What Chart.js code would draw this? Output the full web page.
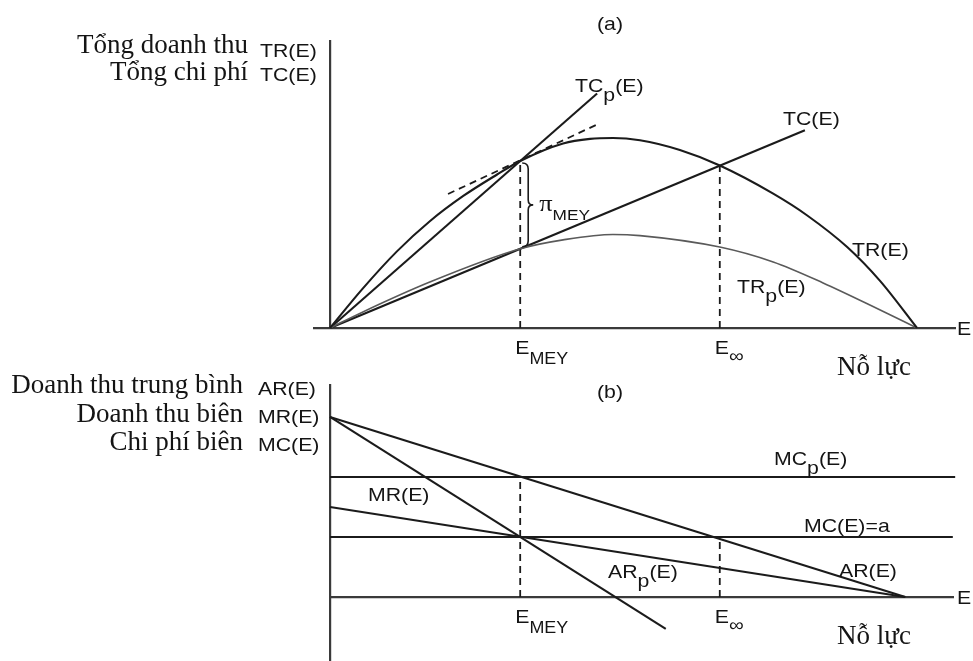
<!DOCTYPE html>
<html>
<head>
<meta charset="utf-8">
<script src="https://cdn.jsdelivr.net/npm/chart.js@4.4.1/dist/chart.umd.min.js"></script>
<style>
  html, body { margin: 0; padding: 0; background: #fff; }
  #wrap { position: relative; width: 973px; height: 661px; overflow: hidden; background: #fff; }
  #wrap canvas { position: absolute; left: 0; top: 0; }
</style>
</head>
<body>
<div id="wrap">
  <canvas id="panelA" width="973" height="661"></canvas>
  <canvas id="panelB" width="973" height="661"></canvas>
</div>
<script>
// Key effort levels
const E_MEY = 32.4;
const E_INF = 66.4;

// Panel (a): total revenue / total cost against effort E
const effortTR   = [0, 5.6, 11.4, 17.0, 22.7, 28.4, 32.4, 39.7, 44.3, 48.2, 52.8, 59.6, 66.4, 75.5, 81.3, 88.1, 93.7, 100];
const revenueTR  = [0, 13.8, 26.7, 37.2, 46.0, 53.4, 58.2, 64.3, 65.9, 66.2, 65.4, 62.0, 56.6, 46.8, 39.2, 28.2, 16.4, 0];
const effortTRp  = [0, 5.6, 17.0, 32.4, 39.7, 48.2, 52.8, 66.4, 75.5, 84.0, 92.5, 100];
const revenueTRp = [0, 5.6, 16.0, 27.6, 30.7, 32.6, 32.2, 28.2, 23.0, 15.7, 7.5, 0];
const effortTC   = [0, 80.9];
const costTC     = [0, 68.9];
const effortTCp  = [0, 45.5];
const costTCp    = [0, 81.7];
const effortTangent = [20.1, 45.7];
const valueTangent  = [46.7, 71.1];

// Panel (b): average / marginal revenue and marginal cost
const effortAR  = [0, 98];
const valueAR   = [30, 0];
const effortARp = [0, 98];
const valueARp  = [15, 0];
const effortMR  = [0, 57.2];
const valueMR   = [30, -5.3];
const effortMCp = [0, 106.5];
const valueMCp  = [20, 20];
const effortMC  = [0, 106.1];
const valueMC   = [10, 10];

const INK = '#1b1b1b';
const GREY = '#5a5a5a';
const AXIS = '#3a3a3a';
const TEXT = '#141414';
const SANS = '"Liberation Sans", Arial, Helvetica, sans-serif';
const SERIF = '"Liberation Serif", "Times New Roman", serif';

const pts = (xs, ys) => xs.map((x, i) => ({ x, y: ys[i] }));
const at = (xs, ys, x) => {
  const i = xs.indexOf(x);
  if (i >= 0) return ys[i];
  return ys[0] + (ys[1] - ys[0]) * (x - xs[0]) / (xs[1] - xs[0]);
};

function line(xs, ys, extra) {
  return Object.assign({
    data: pts(xs, ys), showLine: true, pointRadius: 0, borderColor: INK,
    borderWidth: 2.1, fill: false, clip: false, tension: 0
  }, extra || {});
}
const curve = { cubicInterpolationMode: 'monotone' };
const dashed = { borderDash: [7, 5], borderWidth: 1.8 };

// text helpers
const sans = (text, dy) => ({ text, font: '19px ' + SANS, sx: 1.12, dy: dy || 0 });
const sub = (text, dy) => ({ text, font: '16px ' + SANS, sx: 1.12, dy: dy || 10 });
const serif = (text) => ({ text, font: '27px ' + SERIF, sx: 1, dy: 0 });

function drawRich(ctx, x, y, parts, align) {
  const widths = parts.map(p => { ctx.font = p.font; return ctx.measureText(p.text).width * p.sx; });
  const total = widths.reduce((a, b) => a + b, 0);
  let cx = align === 'right' ? x - total : align === 'center' ? x - total / 2 : x;
  parts.forEach((p, i) => {
    ctx.save();
    ctx.font = p.font;
    ctx.fillStyle = TEXT;
    ctx.textAlign = 'left';
    ctx.textBaseline = 'alphabetic';
    ctx.translate(cx, y + p.dy);
    ctx.scale(p.sx, 1);
    ctx.fillText(p.text, 0, 0);
    ctx.restore();
    cx += widths[i];
  });
}

function axisOpts(extra) {
  return Object.assign({
    type: 'linear',
    grid: { display: false, drawTicks: false },
    border: { display: true, color: AXIS, width: 2.2 },
    ticks: { display: false }
  }, extra);
}

function baseOptions(padding, scales) {
  return {
    responsive: false,
    animation: false,
    events: [],
    layout: { padding },
    plugins: { legend: { display: false }, tooltip: { enabled: false } },
    scales
  };
}

// Labels for the effort axis: E_MEY, E_inf, "Nỗ lực" and the arrow letter E
function effortAxisLabels(ctx, xs, axisY) {
  const xm = xs.getPixelForValue(E_MEY);
  const xi = xs.getPixelForValue(E_INF);
  drawRich(ctx, xm - 5, axisY + 26, [sans('E'), sub('MEY')], 'left');
  drawRich(ctx, xi - 5, axisY + 26, [sans('E'), { text: '\u221e', font: '18px ' + SANS, sx: 1.15, dy: 8 }], 'left');
  drawRich(ctx, 837, axisY + 47, [serif('N\u1ed7 l\u1ef1c')], 'left');
  drawRich(ctx, 957, axisY + 7, [sans('E')], 'left');
}

// ---------- Panel (a) ----------
const trAtMEY = at(effortTR, revenueTR, E_MEY);
const tcAtMEY = at(effortTC, costTC, E_MEY);
const trAtINF = at(effortTR, revenueTR, E_INF);

const labelsA = {
  id: 'labelsA',
  afterDraw(chart) {
    const ctx = chart.ctx;
    const xs = chart.scales.x, ys = chart.scales.y;
    // profit brace between TR and TC at E_MEY
    const xb = xs.getPixelForValue(E_MEY);
    const yTop = ys.getPixelForValue(trAtMEY) + 2;
    const yBot = ys.getPixelForValue(tcAtMEY) - 2;
    const yMid = (yTop + yBot) / 2;
    ctx.save();
    ctx.strokeStyle = INK;
    ctx.lineWidth = 1.6;
    ctx.beginPath();
    ctx.moveTo(xb + 2, yTop);
    ctx.quadraticCurveTo(xb + 8, yTop, xb + 8, yTop + 6);
    ctx.lineTo(xb + 8, yMid - 5);
    ctx.quadraticCurveTo(xb + 8, yMid, xb + 13, yMid);
    ctx.quadraticCurveTo(xb + 8, yMid, xb + 8, yMid + 5);
    ctx.lineTo(xb + 8, yBot - 6);
    ctx.quadraticCurveTo(xb + 8, yBot, xb + 2, yBot);
    ctx.stroke();
    ctx.restore();

    drawRich(ctx, xb + 19, yMid + 6, [{ text: '\u03c0', font: '24px ' + SERIF, sx: 1.1, dy: 0 },
      { text: 'MEY', font: '15px ' + SANS, sx: 1.15, dy: 9 }], 'left');

    drawRich(ctx, 248, 53, [serif('T\u1ed5ng doanh thu')], 'right');
    drawRich(ctx, 260, 57, [sans('TR(E)')], 'left');
    drawRich(ctx, 248, 80, [serif('T\u1ed5ng chi ph\u00ed')], 'right');
    drawRich(ctx, 260, 81, [sans('TC(E)')], 'left');
    drawRich(ctx, 610, 30, [sans('(a)')], 'center');
    drawRich(ctx, 575, 92, [sans('TC'), sans('p', 9), sans('(E)')], 'left');
    drawRich(ctx, 783, 125, [sans('TC(E)')], 'left');
    drawRich(ctx, 852, 256, [sans('TR(E)')], 'left');
    drawRich(ctx, 737, 293, [sans('TR'), sans('p', 9), sans('(E)')], 'left');
    effortAxisLabels(ctx, xs, ys.getPixelForValue(0));
  }
};

new Chart(document.getElementById('panelA'), {
  type: 'scatter',
  data: {
    datasets: [
      line(effortTR, revenueTR, curve),
      line(effortTRp, revenueTRp, Object.assign({ borderColor: GREY, borderWidth: 1.6 }, curve)),
      line(effortTC, costTC),
      line(effortTCp, costTCp),
      line(effortTangent, valueTangent, dashed),
      line([E_MEY, E_MEY], [0, trAtMEY], dashed),
      line([E_INF, E_INF], [0, trAtINF], dashed)
    ]
  },
  options: baseOptions({ left: 314, right: 18, top: 41, bottom: 333 }, {
    x: axisOpts({ min: -2.73, max: 106.47, position: 'bottom' }),
    y: axisOpts({ min: 0, max: 100, position: { x: 0 } })
  }),
  plugins: [labelsA]
});

// ---------- Panel (b) ----------
const mcAt = valueMC[0];
const mcpAt = valueMCp[0];

const labelsB = {
  id: 'labelsB',
  afterDraw(chart) {
    const ctx = chart.ctx;
    const xs = chart.scales.x, ys = chart.scales.y;
    drawRich(ctx, 243, 393, [serif('Doanh thu trung b\u00ecnh')], 'right');
    drawRich(ctx, 258, 395, [sans('AR(E)')], 'left');
    drawRich(ctx, 243, 422, [serif('Doanh thu bi\u00ean')], 'right');
    drawRich(ctx, 258, 423, [sans('MR(E)')], 'left');
    drawRich(ctx, 243, 450, [serif('Chi ph\u00ed bi\u00ean')], 'right');
    drawRich(ctx, 258, 451, [sans('MC(E)')], 'left');
    drawRich(ctx, 610, 398, [sans('(b)')], 'center');
    drawRich(ctx, 774, 465, [sans('MC'), sans('p', 9), sans('(E)')], 'left');
    drawRich(ctx, 804, 532, [sans('MC(E)=a')], 'left');
    drawRich(ctx, 839, 577, [sans('AR(E)')], 'left');
    drawRich(ctx, 608, 578, [sans('AR'), sans('p', 9), sans('(E)')], 'left');
    drawRich(ctx, 368, 501, [sans('MR(E)')], 'left');
    effortAxisLabels(ctx, xs, ys.getPixelForValue(0));
  }
};

new Chart(document.getElementById('panelB'), {
  type: 'scatter',
  data: {
    datasets: [
      line(effortMCp, valueMCp, { borderWidth: 1.8 }),
      line(effortMC, valueMC, { borderWidth: 1.8 }),
      line(effortAR, valueAR),
      line(effortARp, valueARp),
      line(effortMR, valueMR),
      line([E_MEY, E_MEY], [0, mcpAt], dashed),
      line([E_INF, E_INF], [0, mcAt], dashed)
    ]
  },
  options: baseOptions({ left: 330, right: 20, top: 385, bottom: 0 }, {
    x: axisOpts({ min: 0, max: 106.13, position: { y: 0 } }),
    y: axisOpts({ min: -10.67, max: 35.33, position: 'left' })
  }),
  plugins: [labelsB]
});
</script>
</body>
</html>
